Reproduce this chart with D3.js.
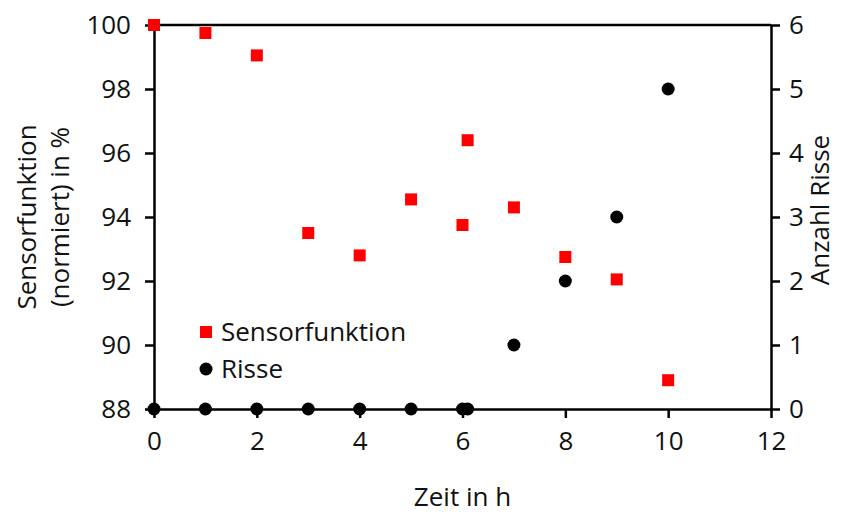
<!DOCTYPE html>
<html>
<head>
<meta charset="utf-8">
<script src="https://cdn.jsdelivr.net/npm/d3@7"></script>
<style>
  body { margin: 0; background: #fff; }
  text { font-family: "Open Sans", sans-serif; fill: #111; }
</style>
</head>
<body>
<div id="chart"></div>
<script>
// Sensorfunktion (left axis, %)
let sensorZeit = [0, 1, 2, 3, 4, 5, 6, 6.1, 7, 8, 9, 10];
let sensorWerte = [100, 99.75, 99.05, 93.5, 92.8, 94.55, 93.75, 96.4, 94.3, 92.75, 92.05, 88.9];

// Risse (right axis, count)
let risseZeit = [0, 1, 2, 3, 4, 5, 6, 6.1, 7, 8, 9, 10];
let risseWerte = [0, 0, 0, 0, 0, 0, 0, 0, 1, 2, 3, 5];

let xTicks = [0, 2, 4, 6, 8, 10, 12];
let yLeftTicks = [88, 90, 92, 94, 96, 98, 100];
let yRightTicks = [0, 1, 2, 3, 4, 5, 6];

let width = 860, height = 514;
let margin = {left: 154, right: 89, top: 25, bottom: 105};
let fs = "26px";

let svg = d3.select("#chart").append("svg")
    .attr("width", width)
    .attr("height", height);

let x = d3.scaleLinear().domain([0, 12]).range([margin.left, width - margin.right]);
let yL = d3.scaleLinear().domain([88, 100]).range([height - margin.bottom, margin.top]);
let yR = d3.scaleLinear().domain([0, 6]).range([height - margin.bottom, margin.top]);

function styleAxis(g) {
    g.select(".domain").attr("stroke", "#000").attr("stroke-width", 2.5);
    g.selectAll(".tick line").attr("stroke", "#000").attr("stroke-width", 2.5);
    g.selectAll(".tick text").style("font-size", fs).attr("fill", "#111");
}

// top frame line
svg.append("line")
    .attr("x1", x(0)).attr("x2", x(12))
    .attr("y1", yL(100)).attr("y2", yL(100))
    .attr("stroke", "#000").attr("stroke-width", 2.5);

svg.append("g")
    .attr("transform", "translate(0," + yL(88) + ")")
    .call(d3.axisBottom(x).tickValues(xTicks).tickSize(9).tickSizeOuter(0).tickPadding(14))
    .call(styleAxis);

svg.append("g")
    .attr("transform", "translate(" + x(0) + ",0)")
    .call(d3.axisLeft(yL).tickValues(yLeftTicks).tickSize(9).tickSizeOuter(0).tickPadding(14))
    .call(styleAxis);

svg.append("g")
    .attr("transform", "translate(" + x(12) + ",0)")
    .call(d3.axisRight(yR).tickValues(yRightTicks).tickFormat(d3.format("d")).tickSize(9).tickSizeOuter(0).tickPadding(9))
    .call(styleAxis);

// axis titles
svg.append("text")
    .attr("x", (x(0) + x(12)) / 2)
    .attr("y", 506)
    .attr("text-anchor", "middle")
    .style("font-size", fs)
    .text("Zeit in h");

svg.append("text")
    .attr("transform", "translate(36," + 217 + ") rotate(-90)")
    .attr("text-anchor", "middle")
    .style("font-size", fs)
    .text("Sensorfunktion");

svg.append("text")
    .attr("transform", "translate(69," + 217 + ") rotate(-90)")
    .attr("text-anchor", "middle")
    .style("font-size", fs)
    .text("(normiert) in %");

svg.append("text")
    .attr("transform", "translate(829," + 210 + ") rotate(-90)")
    .attr("text-anchor", "middle")
    .style("font-size", fs)
    .text("Anzahl Risse");

// Risse points
svg.append("g").selectAll("circle")
    .data(risseZeit)
    .join("circle")
    .attr("cx", d => x(d))
    .attr("cy", (d, i) => yR(risseWerte[i]))
    .attr("r", 6.5)
    .attr("fill", "#000");

// Sensor points
let sq = 12;
svg.append("g").selectAll("rect")
    .data(sensorZeit)
    .join("rect")
    .attr("x", d => x(d) - sq / 2)
    .attr("y", (d, i) => yL(sensorWerte[i]) - sq / 2)
    .attr("width", sq)
    .attr("height", sq)
    .attr("fill", "#ff0000");

// legend
let legend = svg.append("g");
legend.append("rect")
    .attr("x", 200).attr("y", 326)
    .attr("width", sq).attr("height", sq)
    .attr("fill", "#ff0000");
legend.append("text")
    .attr("x", 221).attr("y", 341)
    .style("font-size", fs)
    .text("Sensorfunktion");
legend.append("circle")
    .attr("cx", 206).attr("cy", 369)
    .attr("r", 6.5)
    .attr("fill", "#000");
legend.append("text")
    .attr("x", 221).attr("y", 378)
    .style("font-size", fs)
    .text("Risse");
</script>
</body>
</html>
